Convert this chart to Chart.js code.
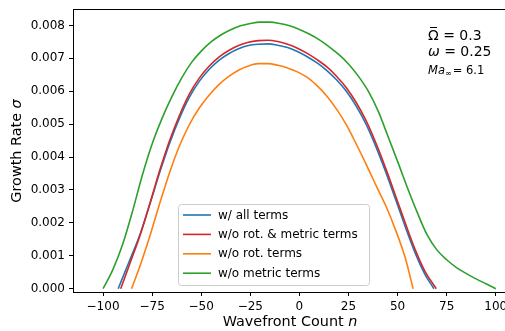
<!DOCTYPE html>
<html>
<head>
<meta charset="utf-8">
<script src="https://cdn.jsdelivr.net/npm/chart.js@4.4.1/dist/chart.umd.min.js"></script>
<style>
body{margin:0;background:#fff}
#canva1{display:block}
</style>
</head>
<body>
<canvas id="canva1" width="505" height="331"></canvas>
<script>
// valores
var nAll = [-92.3, -87, -81, -76, -71, -66, -61, -56, -51, -46, -41, -36, -31, -26, -21, -16, -11, -6, -1, 4, 9, 14, 19, 24, 29, 34, 39, 44, 49, 54, 59, 64, 68.5]
var sigmaAll = [0, 0.00078, 0.00168, 0.0026, 0.00356, 0.00444, 0.00519, 0.00582, 0.0063, 0.00666, 0.00694, 0.00714, 0.00729, 0.00739, 0.00743, 0.00744, 0.0074, 0.00733, 0.00721, 0.00705, 0.00686, 0.00663, 0.00634, 0.00599, 0.00554, 0.00499, 0.00431, 0.00354, 0.00271, 0.00187, 0.00108, 0.00043, 0]

var nSemRotMetric = [-91, -86, -81, -76, -71, -66, -61, -56, -51, -46, -41, -36, -31, -26, -21, -16, -11, -6, -1, 4, 9, 14, 19, 24, 29, 34, 39, 44, 49, 54, 59, 64, 69.7]
var sigmaSemRotMetric = [0, 0.00082, 0.00165, 0.00262, 0.00362, 0.00452, 0.00528, 0.00592, 0.0064, 0.00676, 0.00704, 0.00724, 0.00739, 0.00749, 0.00754, 0.00755, 0.00751, 0.00743, 0.00731, 0.00715, 0.00696, 0.00674, 0.00645, 0.0061, 0.00565, 0.0051, 0.00442, 0.00365, 0.00282, 0.00198, 0.00118, 0.00052, 0]

var nSemRot = [-85.5, -81, -76, -71, -66, -61, -56, -51, -46, -41, -36, -31, -26, -21, -16, -11, -6, -1, 4, 9, 14, 19, 24, 29, 34, 39, 44, 49, 54, 57.9]
var sigmaSemRot = [0, 0.00072, 0.00163, 0.00262, 0.00355, 0.00435, 0.00499, 0.00549, 0.00588, 0.0062, 0.00645, 0.00664, 0.00677, 0.00684, 0.00684, 0.00679, 0.00671, 0.00659, 0.00642, 0.00617, 0.00585, 0.00545, 0.00497, 0.00439, 0.00378, 0.00314, 0.00252, 0.00178, 0.00092, 0]

var nSemMetric = [-100, -95, -90, -85, -80, -75, -70, -65, -60, -55, -50, -45, -40, -35, -30, -25, -20, -15, -10, -5, 0, 5, 10, 15, 20, 25, 30, 35, 40, 45, 50, 55, 60, 65, 70, 75, 80, 85, 90, 95, 100]
var sigmaSemMetric = [0, 0.00058, 0.00135, 0.00235, 0.00345, 0.0044, 0.00517, 0.00583, 0.0064, 0.00687, 0.00722, 0.0075, 0.00771, 0.00787, 0.00799, 0.00806, 0.0081, 0.0081, 0.00806, 0.00799, 0.00788, 0.00774, 0.00757, 0.00736, 0.00712, 0.00683, 0.00646, 0.00601, 0.00541, 0.00465, 0.00387, 0.00307, 0.00232, 0.00164, 0.00118, 0.00088, 0.00064, 0.00046, 0.0003, 0.00015, 0]

var legendas = ["w/ all terms", "w/o rot. & metric terms", "w/o rot. terms", "w/o metric terms"]
var cores = ["#1f77b4", "#d62728", "#ff7f0e", "#2ca02c"]
var xTicks = [-100, -75, -50, -25, 0, 25, 50, 75, 100]
var yTicks = [0, 0.001, 0.002, 0.003, 0.004, 0.005, 0.006, 0.007, 0.008]

var fonte = "DejaVu Sans"

function juntar(xs, ys){
var pts = []
for(var i = 0; i < xs.length; i++){
pts.push({x: xs[i], y: ys[i]})
}
return pts
}

function serie(i, xs, ys, ordem){
return {
label: legendas[i],
data: juntar(xs, ys),
borderColor: cores[i],
backgroundColor: cores[i],
borderWidth: 1.6,
pointRadius: 0,
cubicInterpolationMode: "monotone",
fill: false,
order: ordem
}
}

// legenda, eixo de cima e textos
var extras = {
id: "extras",
afterDraw: function(chart){
var ctx = chart.ctx
var a = chart.chartArea
ctx.save()
ctx.strokeStyle = "#000"
ctx.lineWidth = 1
ctx.beginPath()
ctx.moveTo(a.left, a.top + 0.5)
ctx.lineTo(a.right, a.top + 0.5)
ctx.stroke()

// caixa da legenda
var bx = 178.5, by = 204.5, bw = 191, bh = 81, r = 3
ctx.fillStyle = "rgba(255,255,255,0.8)"
ctx.strokeStyle = "#cccccc"
ctx.beginPath()
ctx.moveTo(bx + r, by)
ctx.arcTo(bx + bw, by, bx + bw, by + bh, r)
ctx.arcTo(bx + bw, by + bh, bx, by + bh, r)
ctx.arcTo(bx, by + bh, bx, by, r)
ctx.arcTo(bx, by, bx + bw, by, r)
ctx.closePath()
ctx.fill()
ctx.stroke()
ctx.font = "12px '" + fonte + "'"
ctx.textBaseline = "middle"
ctx.textAlign = "left"
for(var i = 0; i < legendas.length; i++){
var yy = 215 + i * 19.4
ctx.strokeStyle = cores[i]
ctx.lineWidth = 1.6
ctx.beginPath()
ctx.moveTo(183, yy)
ctx.lineTo(211, yy)
ctx.stroke()
ctx.fillStyle = "#000"
ctx.fillText(legendas[i], 218, yy + 0.5)
}

// textos dos parametros
ctx.fillStyle = "#000"
ctx.font = "14px '" + fonte + "'"
ctx.fillText("\u03a9 = 0.3", 428, 36)
ctx.lineWidth = 1
ctx.strokeStyle = "#000"
ctx.beginPath()
ctx.moveTo(430, 27.5)
ctx.lineTo(437, 27.5)
ctx.stroke()
ctx.font = "italic 14px '" + fonte + "'"
ctx.fillText("\u03c9", 428, 52.5)
var wOm = ctx.measureText("\u03c9").width
ctx.font = "14px '" + fonte + "'"
ctx.fillText(" = 0.25", 428 + wOm, 52.5)
ctx.font = "italic 11.5px '" + fonte + "'"
ctx.fillText("Ma", 428, 71)
var wMa = ctx.measureText("Ma").width
ctx.font = "8px '" + fonte + "'"
ctx.fillText("\u221e", 428 + wMa, 74)
var wInf = ctx.measureText("\u221e").width
ctx.font = "11.5px '" + fonte + "'"
ctx.fillText("= 6.1", 428 + wMa + wInf + 1, 71)

// rotulos dos eixos
ctx.font = "14.4px '" + fonte + "'"
var t1 = "Wavefront Count "
var w1 = ctx.measureText(t1).width
ctx.font = "italic 14.4px '" + fonte + "'"
var w2 = ctx.measureText("n").width
var x0 = 290 - (w1 + w2) / 2
ctx.font = "14.4px '" + fonte + "'"
ctx.fillText(t1, x0, 322)
ctx.font = "italic 14.4px '" + fonte + "'"
ctx.fillText("n", x0 + w1, 322)

ctx.translate(17.5, 151)
ctx.rotate(-Math.PI / 2)
ctx.font = "14.4px '" + fonte + "'"
var t3 = "Growth Rate "
var w3 = ctx.measureText(t3).width
ctx.font = "italic 14.4px '" + fonte + "'"
var w4 = ctx.measureText("\u03c3").width
var y0 = -(w3 + w4) / 2
ctx.font = "14.4px '" + fonte + "'"
ctx.fillText(t3, y0, 0)
ctx.font = "italic 14.4px '" + fonte + "'"
ctx.fillText("\u03c3", y0 + w3, 0)
ctx.restore()
}
}

const config = {
type: "line",
data: {
datasets: [
serie(0, nAll, sigmaAll, 4),
serie(1, nSemRotMetric, sigmaSemRotMetric, 3),
serie(2, nSemRot, sigmaSemRot, 2),
serie(3, nSemMetric, sigmaSemMetric, 1)
]
},
options: {
responsive: false,
animation: false,
devicePixelRatio: 1,
layout: {padding: {top: 9, right: 0, left: 0, bottom: 0}},
plugins: {legend: {display: false}, tooltip: {enabled: false}},
scales: {
x: {
type: "linear",
min: -115.3,
max: 104.7,
afterBuildTicks: function(scale){ scale.ticks = xTicks.map(function(v){ return {value: v} }) },
afterFit: function(scale){ scale.height = 39; scale.paddingLeft = 0; scale.paddingRight = 0 },
ticks: {
font: {family: fonte, size: 12},
color: "#000",
padding: 4,
maxRotation: 0,
autoSkip: false,
callback: function(v){ return String(v).replace("-", "\u2212") }
},
grid: {drawOnChartArea: false, drawTicks: true, tickLength: 4, tickColor: "#000", tickWidth: 1},
border: {display: true, color: "#000", width: 1}
},
y: {
type: "linear",
min: -0.0001,
max: 0.0085,
afterBuildTicks: function(scale){ scale.ticks = yTicks.map(function(v){ return {value: v} }) },
afterFit: function(scale){ scale.width = 73; scale.paddingTop = 0; scale.paddingBottom = 0 },
ticks: {
font: {family: fonte, size: 12},
color: "#000",
padding: 4,
autoSkip: false,
callback: function(v){ return v.toFixed(3) }
},
grid: {drawOnChartArea: false, drawTicks: true, tickLength: 4, tickColor: "#000", tickWidth: 1},
border: {display: true, color: "#000", width: 1}
}
}
},
plugins: [extras]
}

const ctx = document.getElementById("canva1").getContext("2d")
window.chart = new Chart(ctx, config)
</script>
</body>
</html>
